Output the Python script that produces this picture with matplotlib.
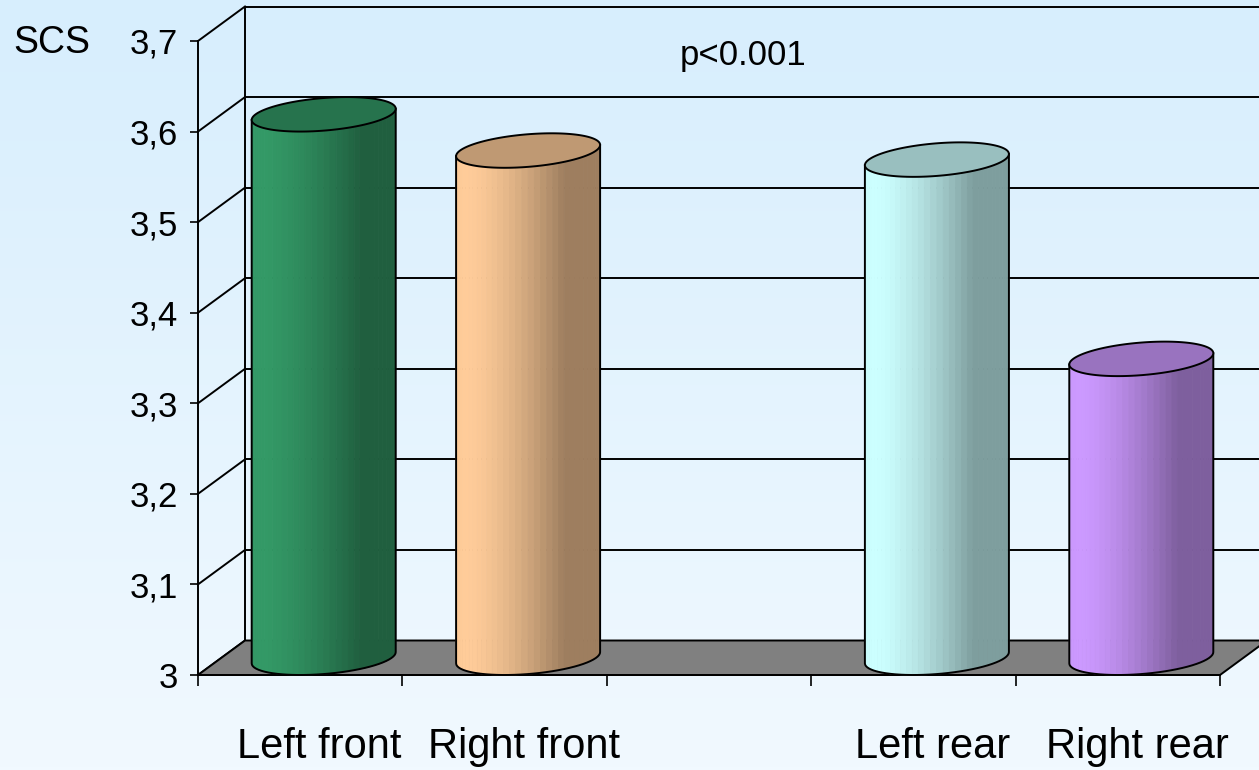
import numpy as np
import matplotlib
matplotlib.use("Agg")
import matplotlib.pyplot as plt
from matplotlib.patches import Polygon
from matplotlib.lines import Line2D
from matplotlib.transforms import IdentityTransform
from matplotlib.colors import to_rgb

plt.rcParams['font.family'] = ['Liberation Sans', 'DejaVu Sans']

# data
categories = ['Left front', 'Right front', '', 'Left rear', 'Right rear']
values = [3.60, 3.56, np.nan, 3.55, 3.33]
bar_colors = ['#339966', '#ffcc99', '#ffffff', '#ccffff', '#cc99ff']
yticks = [3.0, 3.1, 3.2, 3.3, 3.4, 3.5, 3.6, 3.7]
ytick_labels = ['3', '3,1', '3,2', '3,3', '3,4', '3,5', '3,6', '3,7']
y_min, y_max = 3.0, 3.7

W, H, DPI = 1259, 770, 100
fig = plt.figure(figsize=(W / DPI, H / DPI), dpi=DPI)

# background gradient
bg = fig.add_axes([0, 0, 1, 1], zorder=-1)
top_c = np.array(to_rgb('#d7eefd'))
bot_c = np.array(to_rgb('#f1f9ff'))
grad = np.linspace(0, 1, 256)[:, None, None]
bg.imshow(top_c * (1 - grad) + bot_c * grad, aspect='auto', extent=(0, 1, 0, 1))
bg.axis('off')

# front plane of the 3D box
ax = fig.add_axes([198 / W, (H - 675) / H, (1220 - 198) / W, (675 - 41) / H])
ax.set_facecolor('none')
n = len(categories)
ax.set_xlim(-0.5, n - 0.5)
ax.set_ylim(y_min, y_max)

# depth vector of the box (inches -> pixels)
depth_px = np.array([0.47, 0.345]) * fig.dpi
ident = IdentityTransform()
LW = 1.4


def proj(x, v, d):
    x = np.atleast_1d(np.asarray(x, float))
    v = np.broadcast_to(np.asarray(v, float), x.shape)
    d = np.broadcast_to(np.asarray(d, float), x.shape)
    p = ax.transData.transform(np.column_stack([x, v]))
    return p + np.outer(d, depth_px)


def seg(p0, p1, lw=LW, z=1):
    pts = np.vstack([p0, p1])
    ax.add_line(Line2D(pts[:, 0], pts[:, 1], transform=ident, color='black',
                       lw=lw, zorder=z, clip_on=False))


x0, x1 = -0.5, n - 0.5
# back wall grid + side wall diagonals
for v in yticks:
    seg(proj(x0, v, 1), proj(x1, v, 1))
    seg(proj(x0, v, 0), proj(x0, v, 1))
seg(proj(x0, y_min, 1), proj(x0, y_max, 1))

# floor
floor = np.vstack([proj(x0, y_min, 0), proj(x1, y_min, 0),
                   proj(x1, y_min, 1), proj(x0, y_min, 1)])
ax.add_patch(Polygon(floor, closed=True, transform=ident, facecolor='#808080',
                     edgecolor='black', lw=LW, zorder=1.5, clip_on=False))

# cylinders
rx = 0.333
rx_px = ax.transData.transform((rx, 0))[0] - ax.transData.transform((0, 0))[0]
t_s = np.arctan2(0.5 * depth_px[0], rx_px)
t_arc = np.linspace(np.pi + t_s, 2 * np.pi + t_s, 37)
t_full = np.linspace(0, 2 * np.pi, 200)
t_light = 4.0

for i, (v, col) in enumerate(zip(values, bar_colors)):
    if np.isnan(v):
        continue
    base = np.array(to_rgb(col))
    xs = i + rx * np.cos(t_arc)
    ds = 0.5 + 0.5 * np.sin(t_arc)
    top = proj(xs, v, ds)
    bot = proj(xs, y_min, ds)
    for k in range(len(t_arc) - 1):
        tm = 0.5 * (t_arc[k] + t_arc[k + 1])
        b = 0.62 + 0.38 * max(0.0, np.cos(tm - t_light))
        c = np.clip(base * b, 0, 1)
        quad = np.vstack([top[k], top[k + 1], bot[k + 1], bot[k]])
        ax.add_patch(Polygon(quad, closed=True, transform=ident, facecolor=c,
                             edgecolor=c, lw=0.6, zorder=3, clip_on=False))
    # outline of body
    outline = np.vstack([top[:1], bot, top[-1:]])
    ax.add_line(Line2D(outline[:, 0], outline[:, 1], transform=ident,
                       color='black', lw=LW, zorder=3.5, clip_on=False))
    # top cap
    cap = proj(i + rx * np.cos(t_full), v, 0.5 + 0.5 * np.sin(t_full))
    ax.add_patch(Polygon(cap, closed=True, transform=ident,
                         facecolor=np.clip(base * 0.75, 0, 1), edgecolor='black',
                         lw=LW, zorder=4, clip_on=False))

# axes styling
for s in ['top', 'right']:
    ax.spines[s].set_visible(False)
ax.spines['left'].set_linewidth(LW)
ax.spines['bottom'].set_linewidth(LW)
ax.set_yticks(yticks)
ax.set_yticklabels(ytick_labels)
ax.tick_params(axis='y', direction='out', length=5.8, width=1.2, pad=8.6,
               labelsize=25)
ax.set_xticks(np.arange(x0, x1 + 0.01, 1))
ax.set_xticklabels([])
ax.tick_params(axis='x', direction='out', length=8, width=1.2)

half_depth_pt = 0.5 * 0.47 * 72
for i, name in enumerate(categories):
    if name:
        ax.annotate(name, xy=(i, y_min), xycoords='data',
                    xytext=(half_depth_pt - 3, -59.8), textcoords='offset points',
                    ha='center', va='baseline', fontsize=30, annotation_clip=False)

fig.text(13 / W, 1 - 53 / H, 'SCS', ha='left', va='baseline', fontsize=27)
fig.text(743 / W, 1 - 65 / H, 'p<0.001', ha='center', va='baseline', fontsize=25)

fig.savefig('out.png', dpi=DPI)
